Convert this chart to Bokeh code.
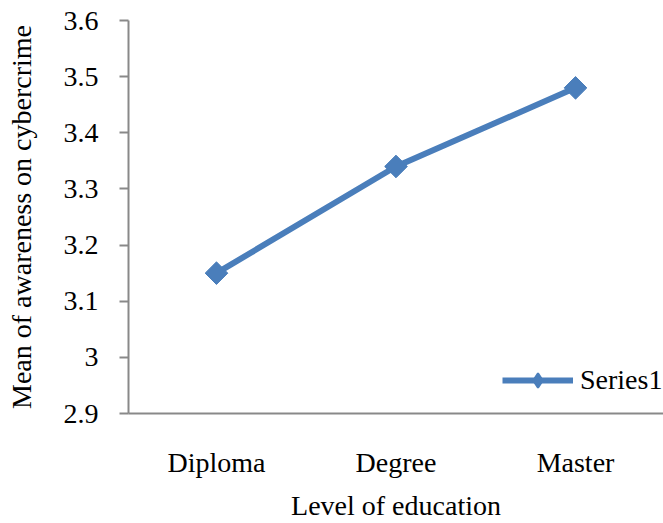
from bokeh.plotting import figure
from bokeh.models import FixedTicker, Range1d, Legend, LegendItem
from bokeh.embed import file_html
from bokeh.resources import INLINE
import math

categories = ["Diploma", "Degree", "Master"]
series1 = [3.15, 3.34, 3.48]
y_ticks = [2.9, 3.0, 3.1, 3.2, 3.3, 3.4, 3.5, 3.6]
y_tick_labels = ["2.9", "3", "3.1", "3.2", "3.3", "3.4", "3.5", "3.6"]

xs = list(range(len(categories)))
FONT = "Liberation Serif"
FS = "28px"
BLUE = "#4A7EBB"
AXIS = "#898989"

p = figure(width=663, height=523, output_backend="svg", toolbar_location=None,
           x_range=Range1d(-0.49, 2.49), y_range=Range1d(2.9, 3.6),
           min_border_left=128, min_border_right=0, min_border_top=20,
           min_border_bottom=108, background_fill_color="white",
           border_fill_color="white")
p.outline_line_color = None
p.grid.visible = False

r_line = p.line(xs, series1, line_color=BLUE, line_width=6)
# diamond glyph used for the legend key (hidden under the markers below)
r_leg = p.scatter(xs, series1, marker="diamond", size=14,
                  fill_color=BLUE, line_color=BLUE, line_width=2)
r_pts = p.scatter(xs, series1, marker="square", angle=math.pi / 4, size=16,
                  fill_color=BLUE, line_color=BLUE)

# x axis
p.xaxis.ticker = FixedTicker(ticks=xs)
p.xaxis.major_label_overrides = {i: c for i, c in enumerate(categories)}
p.xaxis.major_tick_line_color = None
p.xaxis.minor_tick_line_color = None
p.xaxis.axis_line_color = AXIS
p.xaxis.axis_line_width = 2
p.xaxis.major_label_text_font = FONT
p.xaxis.major_label_text_font_size = FS
p.xaxis.major_label_text_color = "black"
p.xaxis.major_label_standoff = 27
p.xaxis.axis_label = "Level of education"
p.xaxis.axis_label_text_font = FONT
p.xaxis.axis_label_text_font_size = FS
p.xaxis.axis_label_text_font_style = "normal"
p.xaxis.axis_label_text_color = "black"
p.xaxis.axis_label_standoff = 9

# y axis
p.yaxis.ticker = FixedTicker(ticks=y_ticks)
p.yaxis.major_label_overrides = {t: l for t, l in zip(y_ticks, y_tick_labels)}
p.yaxis.major_tick_out = 9
p.yaxis.major_tick_in = 0
p.yaxis.major_tick_line_color = AXIS
p.yaxis.major_tick_line_width = 2
p.yaxis.minor_tick_line_color = None
p.yaxis.axis_line_color = AXIS
p.yaxis.axis_line_width = 2
p.yaxis.major_label_text_font = FONT
p.yaxis.major_label_text_font_size = FS
p.yaxis.major_label_text_color = "black"
p.yaxis.major_label_standoff = 21
p.yaxis.axis_label = "Mean of awareness on cybercrime"
p.yaxis.axis_label_text_font = FONT
p.yaxis.axis_label_text_font_size = FS
p.yaxis.axis_label_text_font_style = "normal"
p.yaxis.axis_label_text_color = "black"
p.yaxis.axis_label_standoff = 24

legend = Legend(items=[LegendItem(label="Series1", renderers=[r_line, r_leg])],
                location=(374, 15), glyph_width=71, glyph_height=36,
                label_standoff=7, padding=0, margin=0, border_line_color=None,
                background_fill_alpha=0, label_text_font=FONT,
                label_text_font_size=FS, label_text_color="black")
p.add_layout(legend, "center")

open("out.html", "w").write(file_html(p, INLINE))
